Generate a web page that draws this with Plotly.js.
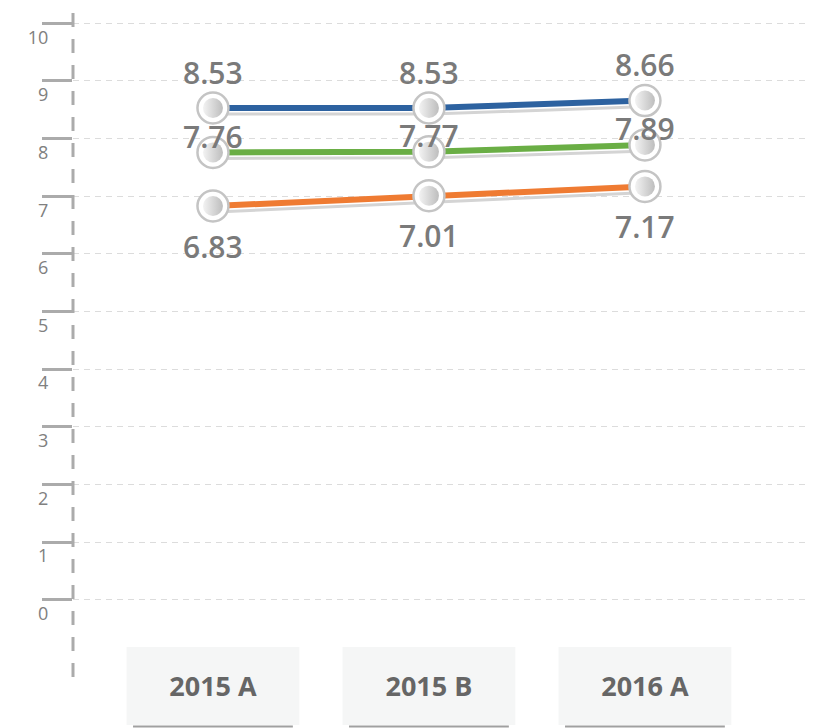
<!DOCTYPE html>
<html>
<head>
<meta charset="utf-8">
<script src="https://cdn.plot.ly/plotly-3.0.1.min.js"></script>
<style>html,body{margin:0;padding:0;background:#fff;}#chart{width:823px;height:728px;}</style>
</head>
<body>
<div id="chart"></div>
<script>
const categories = ["2015 A", "2015 B", "2016 A"];
const blueValues = [8.53, 8.53, 8.66];
const greenValues = [7.76, 7.77, 7.89];
const orangeValues = [6.83, 7.01, 7.17];
const yTicks = [0, 1, 2, 3, 4, 5, 6, 7, 8, 9, 10];

const series = [
  {y: blueValues, color: "#2d62a0", shift: 36},
  {y: greenValues, color: "#6aae45", shift: 16},
  {y: orangeValues, color: "#ef7b32", shift: -40}
];

const traces = [];
series.forEach(s => {
  traces.push({x: categories, y: s.y, type: "scatter", mode: "lines",
    line: {color: s.color, width: 6}, hoverinfo: "skip", showlegend: false});
});
series.forEach(s => {
  traces.push({x: categories, y: s.y, type: "scatter", mode: "markers",
    marker: {size: 31, color: "#ffffff", line: {color: "#c4c4c4", width: 2.5}},
    hoverinfo: "skip", showlegend: false});
  traces.push({x: categories, y: s.y, type: "scatter", mode: "markers",
    marker: {size: 20, color: "#f3f3f3", gradient: {type: "horizontal", color: "#bdbdbd"}, line: {width: 0}},
    hoverinfo: "skip", showlegend: false});
});

const annotations = [];
series.forEach(s => {
  s.y.forEach((v, i) => {
    annotations.push({x: i, y: v, xref: "x", yref: "y", text: v.toFixed(2),
      showarrow: false, yshift: s.shift, yanchor: "middle",
      font: {family: "Open Sans", size: 30, color: "#7a7a7a", weight: 600}});
  });
});

const shapes = [];
categories.forEach((c, i) => {
  shapes.push({type: "rect", xref: "x", yref: "paper", x0: i - 0.4, x1: i + 0.4,
    y0: -0.2117, y1: -0.0775, fillcolor: "#f5f6f6", line: {width: 0}, layer: "below"});
  shapes.push({type: "line", xref: "x", yref: "paper", x0: i - 0.37, x1: i + 0.37,
    y0: -0.2143, y1: -0.2143, line: {color: "#a0a0a0", width: 2}});
});
shapes.push({type: "line", xref: "paper", yref: "paper", x0: 0, x1: 0, y0: -0.129, y1: 1.022,
  line: {color: "#ababab", width: 3, dash: "14px,12px"}});

const layout = {
  width: 823, height: 728,
  margin: {l: 73, r: 15, t: 21, b: 126},
  paper_bgcolor: "#ffffff", plot_bgcolor: "#ffffff",
  showlegend: false,
  xaxis: {type: "category", range: [-0.648, 2.755], showgrid: false, zeroline: false,
    showline: false, ticks: "", ticklabelstandoff: 66,
    tickfont: {family: "Open Sans", size: 27, color: "#666666", weight: 700}},
  yaxis: {range: [-0.04, 10.04], tickvals: yTicks, ticktext: yTicks.map(String),
    showgrid: true, gridcolor: "#dcdcdc", gridwidth: 1, griddash: "6px,5px",
    zeroline: false, showline: false, ticks: "outside", ticklen: 30, tickwidth: 3,
    tickcolor: "#ababab", ticklabelshift: 14, ticklabelstandoff: -10,
    tickfont: {family: "Open Sans", size: 18, color: "#808080"}},
  annotations: annotations,
  shapes: shapes
};

Plotly.newPlot("chart", traces, layout, {displayModeBar: false, staticPlot: true}).then(gd => {
  const lines = gd.querySelectorAll(".scatterlayer .trace path.js-line");
  lines.forEach(p => {
    const c = p.cloneNode(true);
    c.style.stroke = "#d4d4d4";
    c.style.strokeWidth = "3px";
    c.setAttribute("transform", "translate(3,6)");
    p.parentNode.insertBefore(c, p);
  });
});
</script>
</body>
</html>
